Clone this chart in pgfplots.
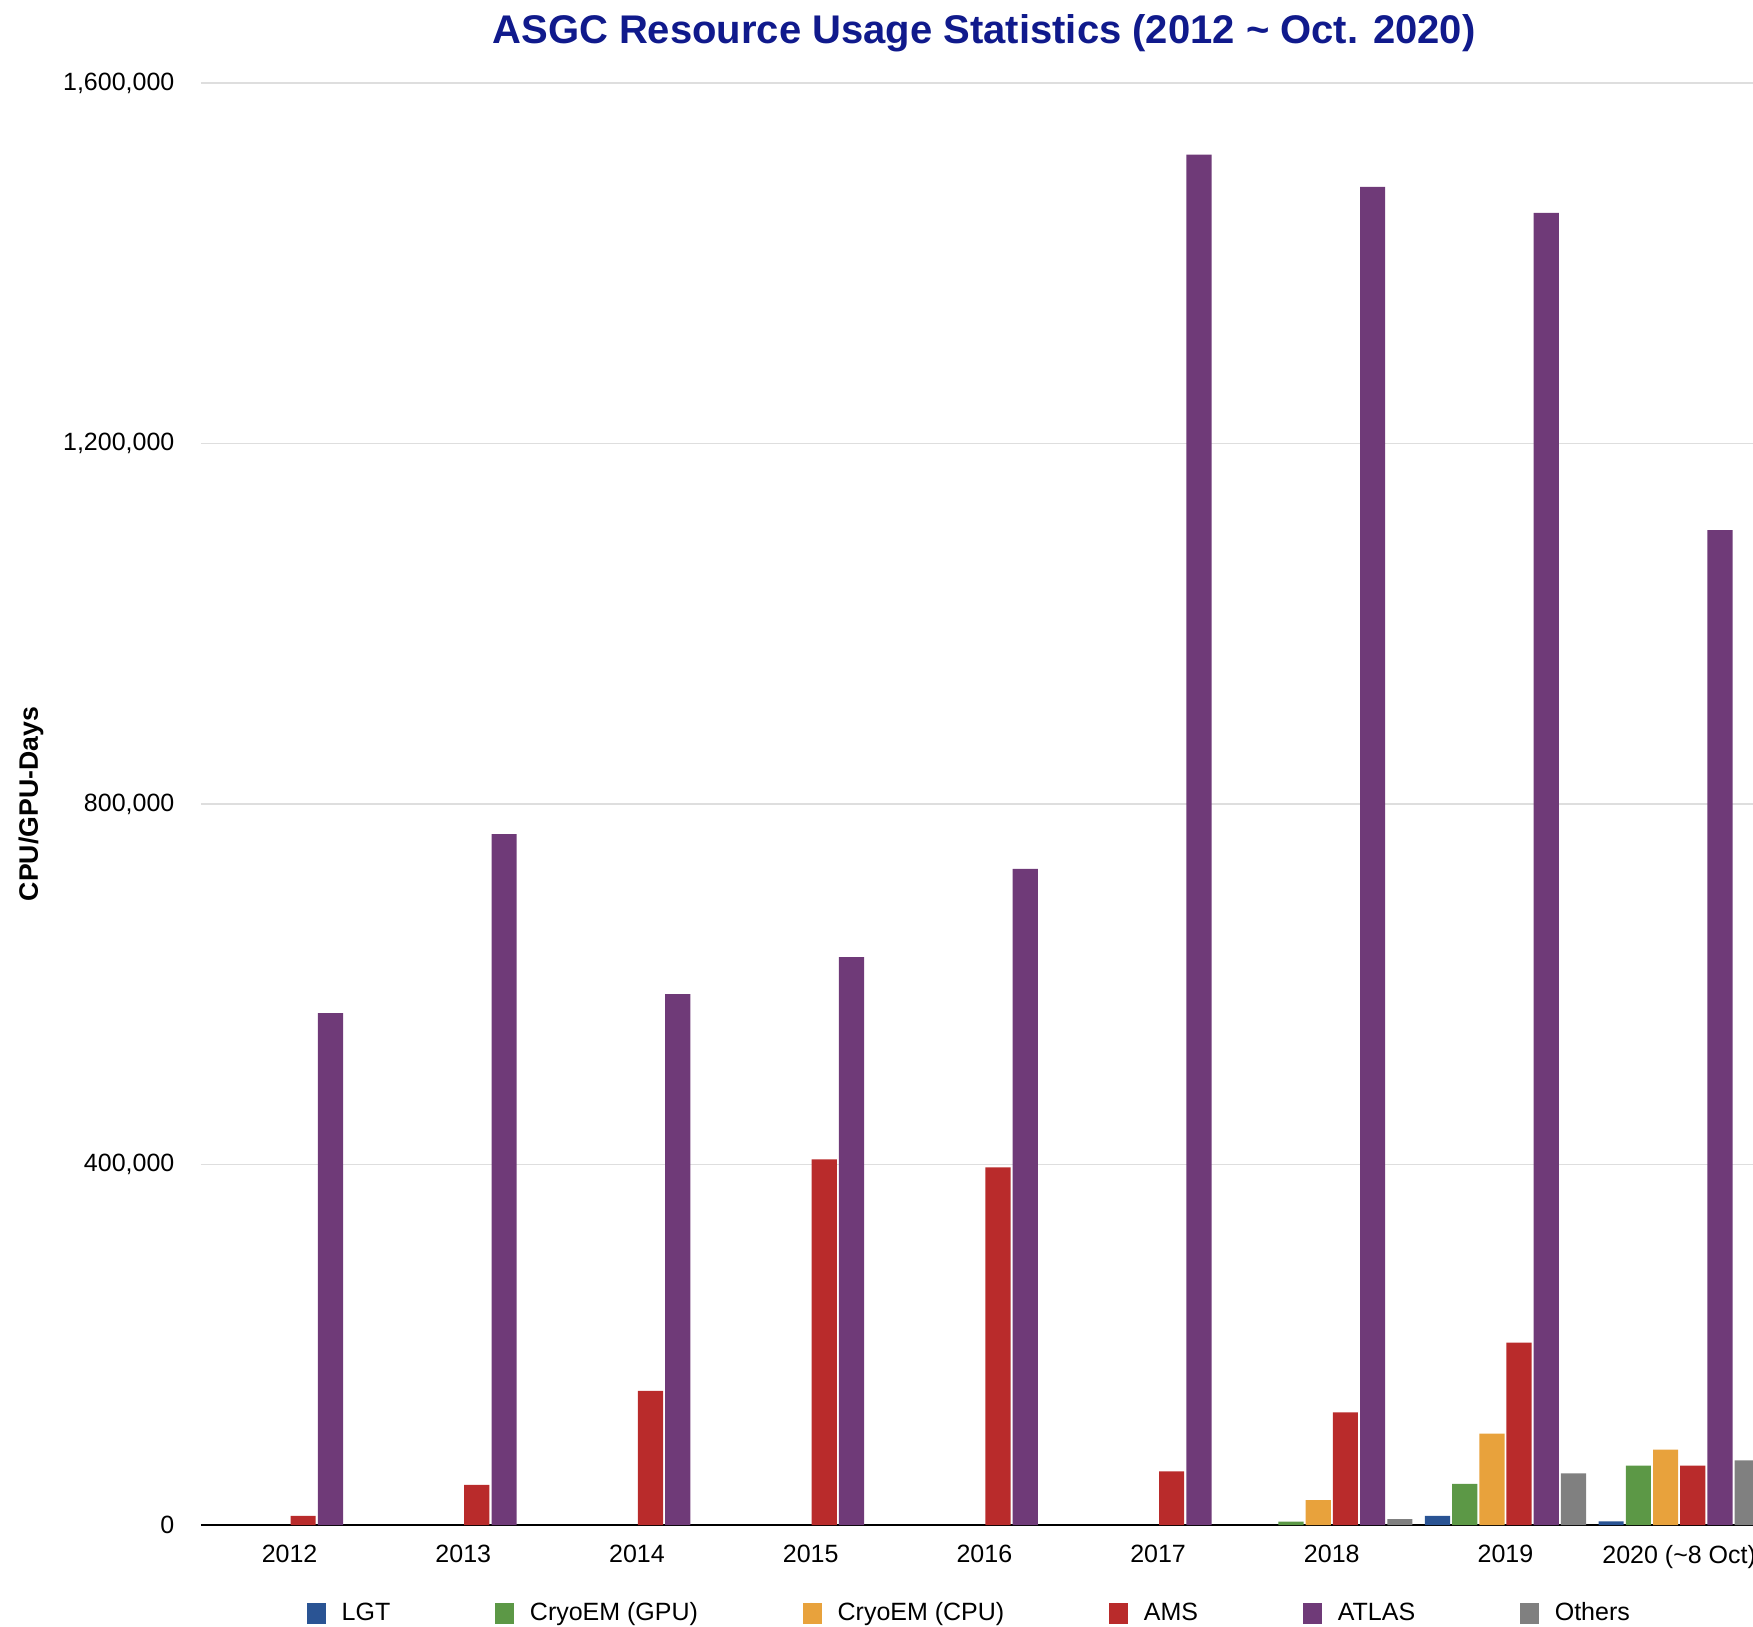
\documentclass[border=0pt]{standalone}
\usepackage{fontspec}
\setmainfont{Liberation Sans}
\usepackage{pgfplots}
\pgfplotsset{compat=1.18}
\definecolor{cLGT}{RGB}{42,84,148}
\definecolor{cGPU}{RGB}{92,152,70}
\definecolor{cCPU}{RGB}{232,162,60}
\definecolor{cAMS}{RGB}{185,43,43}
\definecolor{cATLAS}{RGB}{111,58,120}
\definecolor{cOth}{RGB}{128,128,128}
\definecolor{ctitle}{RGB}{16,26,140}
\begin{document}
\begin{tikzpicture}
\useasboundingbox (0,0) rectangle (525.9pt,488.1pt);
\begin{axis}[
  at={(60.3pt,30.6pt)}, anchor=south west,
  scale only axis, width=465.6pt, height=432.6pt,
  xmin=-0.51, xmax=8.425, ymin=0, ymax=1600000,
  ybar, bar width=0.145,
  axis lines*=left,
  y axis line style={draw=none},
  x axis line style={black, line width=0.6pt, -},
  tick style={draw=none},
  ymajorgrids, grid style={black!13, line width=0.45pt},
  ytick={0,400000,800000,1200000,1600000},
  scaled y ticks=false,
  /pgf/number format/.cd, fixed, 1000 sep={,}, assume math mode=true,
  /pgfplots/.cd,
  xtick={0,...,8},
  xticklabels={2012,2013,2014,2015,2016,2017,2018,2019,2020 (\textasciitilde8 Oct)},
  tick label style={font=\fontsize{7.5}{9}\selectfont},
  yticklabel style={anchor=east, inner sep=0pt, xshift=-7.8pt},
  xticklabel style={anchor=north, inner sep=0pt, yshift=-1.6pt},
  ylabel={CPU/GPU-Days},
  ylabel style={at={(axis description cs:-0.1095,0.5)}, anchor=center, font=\bfseries\fontsize{8}{9.6}\selectfont},
  title={ASGC Resource Usage Statistics (2012 \textasciitilde\ Oct. 2020)},
  title style={at={(axis description cs:0.5045,1.0138)}, anchor=base, font=\bfseries\fontsize{12}{14}\selectfont, text=ctitle, inner sep=0pt},
  legend columns=-1,
  legend cell align=left,
  legend image code/.code={\fill[#1] (0pt,-3.15pt) rectangle (5.6pt,3.15pt);},
  legend style={at={(axis description cs:0.0683,-0.0617)}, anchor=west, draw=none, fill=none,
    inner sep=0pt, outer sep=0pt, font=\fontsize{7.5}{9}\selectfont,
    nodes={inner sep=0pt},
    /tikz/every odd column/.append style={column sep=4.8pt},
    /tikz/every even column/.append style={column sep=31.5pt}},
]
\addplot[fill=cLGT, draw=none, bar shift=-0.392] coordinates {(7,10000) (8,4100)};
\addlegendentry{LGT}
\addplot[fill=cGPU, draw=none, bar shift=-0.235] coordinates {(6,3700) (7,45500) (8,65800)};
\addlegendentry{CryoEM (GPU)}
\addplot[fill=cCPU, draw=none, bar shift=-0.078] coordinates {(6,27700) (7,101300) (8,83600)};
\addlegendentry{CryoEM (CPU)}
\addplot[fill=cAMS, draw=none, bar shift=0.078] coordinates {(0,10000) (1,44600) (2,148800) (3,405600) (4,396900) (5,59500) (6,125000) (7,202300) (8,65800)};
\addlegendentry{AMS}
\addplot[fill=cATLAS, draw=none, bar shift=0.235] coordinates {(0,568000) (1,766500) (2,589000) (3,630000) (4,728000) (5,1520600) (6,1484700) (7,1456000) (8,1103900)};
\addlegendentry{ATLAS}
\addplot[fill=cOth, draw=none, bar shift=0.392] coordinates {(6,6600) (7,57400) (8,71800)};
\addlegendentry{Others}
\end{axis}
\end{tikzpicture}
\end{document}
